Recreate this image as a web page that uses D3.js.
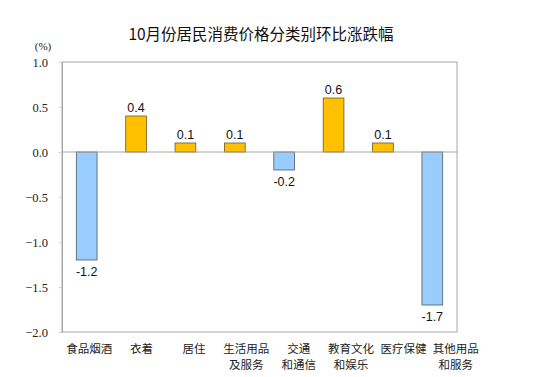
<!DOCTYPE html>
<html><head><meta charset="utf-8">
<script src="https://cdn.jsdelivr.net/npm/d3@7"></script>
<style>body{margin:0;background:#fff}</style>
</head><body>
<svg id="c" width="550" height="377"></svg>
<script>
const categories = [["食品烟酒"],["衣着"],["居住"],["生活用品","及服务"],["交通","和通信"],["教育文化","和娱乐"],["医疗保健"],["其他用品","和服务"]];
const values = [-1.2, 0.4, 0.1, 0.1, -0.2, 0.6, 0.1, -1.7];
const valueLabels = ["-1.2","0.4","0.1","0.1","-0.2","0.6","0.1","-1.7"];
const yTicks = [1.0, 0.5, 0.0, -0.5, -1.0, -1.5, -2.0];
const title = "10月份居民消费价格分类别环比涨跌幅";
const unit = "(%)";

const svg = d3.select("#c");
const L = 62, R = 457, T = 62, B = 332;
const x = d3.scaleBand().domain(d3.range(values.length)).range([L, R]).paddingInner(0.58).paddingOuter(0.29);
const xl = d3.scaleBand().domain(d3.range(values.length)).range([63, 482]);
const y = d3.scaleLinear().domain([-2, 1]).range([B, T]);

svg.append("text").attr("x", 261).attr("y", 40).attr("text-anchor", "middle")
  .attr("font-family", "'Noto Sans CJK SC'").attr("font-size", 15.5).attr("fill", "#111").text(title);
svg.append("text").attr("x", 43).attr("y", 50).attr("text-anchor", "middle")
  .attr("font-family", "'Liberation Serif'").attr("font-size", 11).attr("fill", "#222").text(unit);

// frame
svg.append("rect").attr("x", L).attr("y", T).attr("width", R - L).attr("height", B - T)
  .attr("fill", "none").attr("stroke", "#a6a6a6").attr("stroke-width", 1);

// y axis
const yAxis = d3.axisLeft(y).tickValues(yTicks).tickFormat(d3.format(".1f")).tickSize(3).tickPadding(11);
const ga = svg.append("g").attr("transform", `translate(${L},0)`).call(yAxis);
ga.select(".domain").attr("stroke", "#a6a6a6");
ga.selectAll(".tick line").attr("stroke", "#d0d0d0");
ga.selectAll(".tick text").attr("font-family", "'Liberation Serif'").attr("font-size", 12.5).attr("fill", "#222");

// bars
svg.selectAll("rect.bar").data(values).join("rect").attr("class", "bar")
  .attr("x", (d, i) => x(i)).attr("width", x.bandwidth())
  .attr("y", d => y(Math.max(0, d))).attr("height", d => Math.abs(y(d) - y(0)))
  .attr("fill", d => d < 0 ? "#99ccff" : "#ffc000")
  .attr("stroke", d => d < 0 ? "#4d5a66" : "#6b5a1e").attr("stroke-width", 0.8);

// zero line
svg.append("line").attr("x1", L).attr("x2", R).attr("y1", y(0)).attr("y2", y(0))
  .attr("stroke", "#a6a6a6").attr("stroke-width", 1.2);

// value labels
svg.selectAll("text.val").data(values).join("text").attr("class", "val")
  .attr("x", (d, i) => x(i) + x.bandwidth() / 2)
  .attr("y", d => d < 0 ? y(d) + 16 : y(d) - 4)
  .attr("text-anchor", "middle").attr("font-family", "'Liberation Sans'").attr("font-size", 12.5).attr("fill", "#111")
  .text((d, i) => valueLabels[i]);

// category labels
const cg = svg.selectAll("g.cat").data(categories).join("g").attr("class", "cat");
cg.each(function(lines, i) {
  const g = d3.select(this);
  lines.forEach((t, j) => {
    g.append("text").attr("x", xl(i) + xl.bandwidth() / 2).attr("y", 353 + j * 16)
      .attr("text-anchor", "middle").attr("font-family", "'Noto Sans CJK SC'").attr("font-size", 11.5).attr("fill", "#222").text(t);
  });
});
</script>
</body></html>
